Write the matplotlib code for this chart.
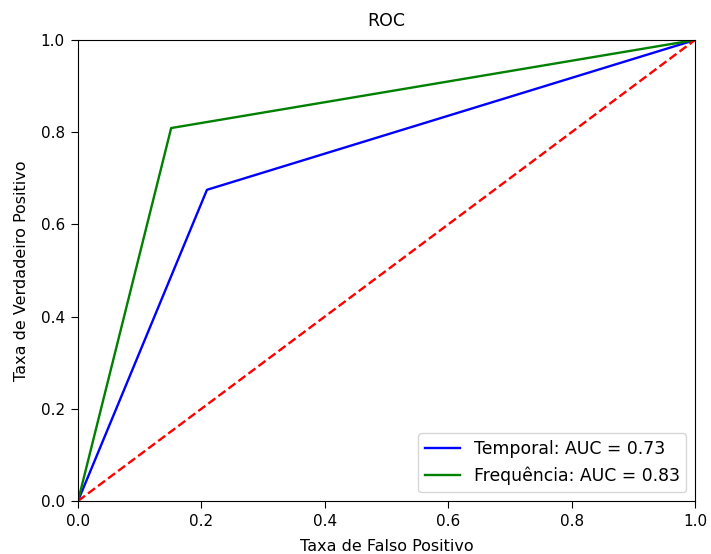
import matplotlib
matplotlib.use("Agg")
import matplotlib.pyplot as plt

# ROC points (fpr, tpr)
fpr_temporal = [0.0, 0.209, 1.0]
tpr_temporal = [0.0, 0.675, 1.0]
fpr_freq = [0.0, 0.151, 1.0]
tpr_freq = [0.0, 0.809, 1.0]
auc_temporal = 0.73
auc_freq = 0.83

fig = plt.figure(figsize=(7.11, 5.54), dpi=100)
ax = fig.add_axes([0.1097, 0.0957, 0.8678, 0.8321])

ax.plot(fpr_temporal, tpr_temporal, 'b', lw=1.7, label='Temporal: AUC = %0.2f' % auc_temporal)
ax.plot(fpr_freq, tpr_freq, 'g', lw=1.7, label='Frequência: AUC = %0.2f' % auc_freq)
ax.plot([0, 1], [0, 1], 'r--', lw=1.7)

ax.set_xlim(0, 1)
ax.set_ylim(0, 1)
ax.set_title("ROC", fontsize=12.5, pad=10)
ax.set_xlabel("Taxa de Falso Positivo", fontsize=11.5, labelpad=7)
ax.set_ylabel("Taxa de Verdadeiro Positivo", fontsize=11.5, labelpad=8)
ax.tick_params(labelsize=11, length=5, pad=4.5)
ax.legend(loc='lower right', fontsize=12.4, borderaxespad=0.5)

fig.savefig("out.png", dpi=100)
